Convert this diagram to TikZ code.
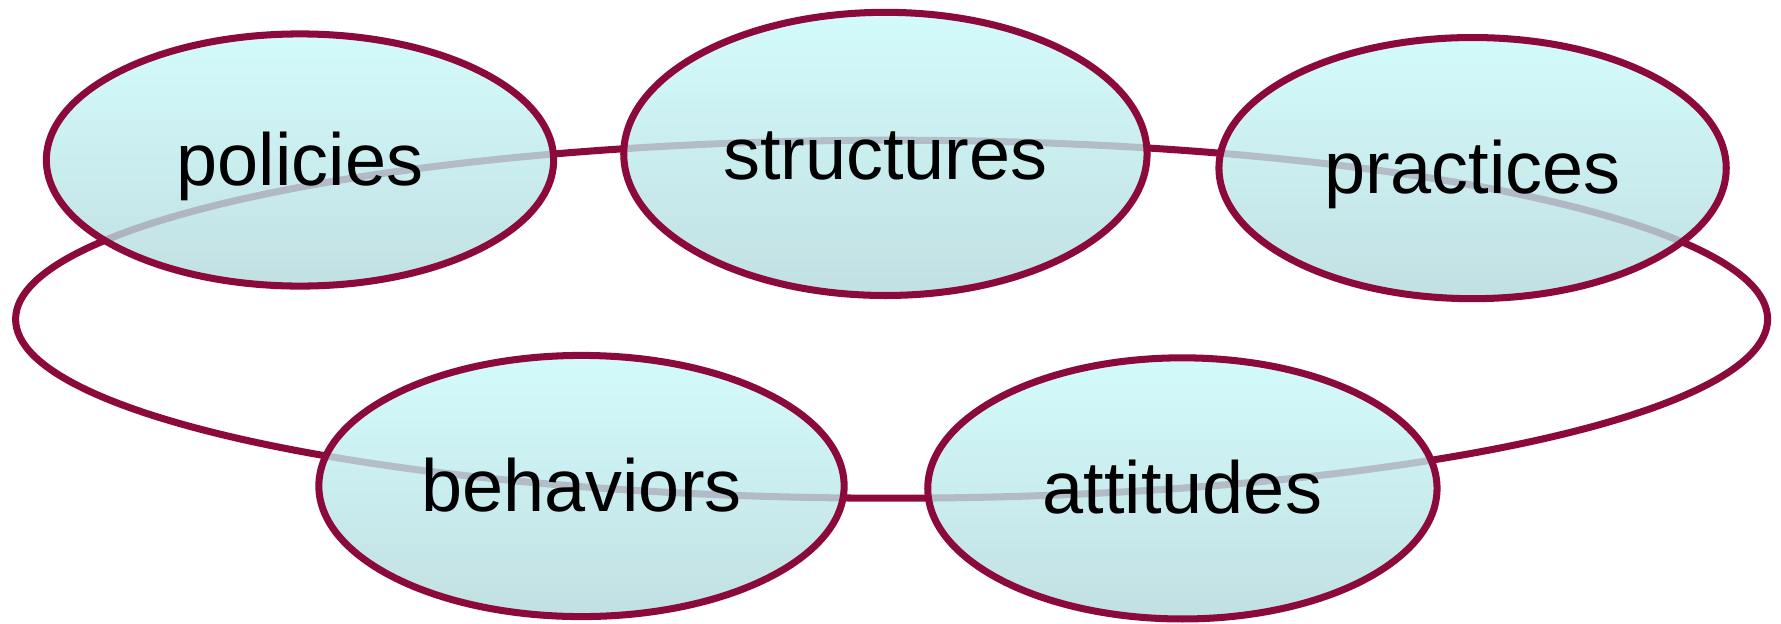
\documentclass[tikz,border=0pt]{standalone}
\usepackage{fontspec}
\setmainfont{Liberation Sans}
\usetikzlibrary{shapes.geometric}
\definecolor{ringred}{RGB}{139,10,59}
\definecolor{cyantop}{RGB}{200,250,250}
\definecolor{cyanbot}{RGB}{178,216,219}

\begin{document}
\begin{tikzpicture}[x=0.01cm,y=-0.01cm]
    \tikzset{Cycle/.style = {ellipse, draw=ringred, line width=2pt,
        top color=cyantop, bottom color=cyanbot, fill opacity=0.8,
        text opacity=1, inner sep=0pt, text height=19pt, text depth=4.5pt,
        font=\fontsize{21}{25}\selectfont}}
    \useasboundingbox (0,0) rectangle (1781,624);

    % the ring behind the five ellipses
    \draw[ringred, line width=2pt] (891.6,319.2) ellipse [x radius=876, y radius=179];

    \node[Cycle, minimum width=5.07cm, minimum height=2.52cm] (policies)   at (300,160)    {policies};
    \node[Cycle, minimum width=5.23cm, minimum height=2.83cm] (structures) at (885.4,153.9) {structures};
    \node[Cycle, minimum width=5.07cm, minimum height=2.61cm] (practices)  at (1472.6,168.1) {practices};
    \node[Cycle, minimum width=5.25cm, minimum height=2.61cm] (behaviors)  at (581.5,486)  {behaviors};
    \node[Cycle, minimum width=5.09cm, minimum height=2.61cm] (attitudes)  at (1182.4,488.4) {attitudes};
\end{tikzpicture}
\end{document}
